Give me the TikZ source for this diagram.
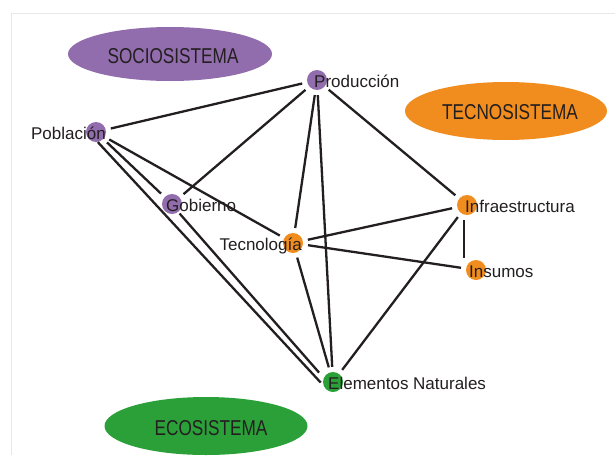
\documentclass[tikz,border=0pt]{standalone}
\usepackage{fontspec}
\usepackage{graphicx}
\setmainfont{Liberation Sans}
\newfontfamily\narrowfont[FakeStretch=0.8]{Liberation Sans}
\usetikzlibrary{shapes.geometric}
\definecolor{socio}{RGB}{146,109,173}
\definecolor{tecno}{RGB}{240,141,30}
\definecolor{eco}{RGB}{43,160,57}
\definecolor{ink}{RGB}{35,31,32}
\definecolor{frame}{RGB}{232,232,232}
\tikzset{
  dot/.style={circle,minimum size=20pt,inner sep=0pt,draw=none},
  lbl/.style={inner sep=0pt,text=ink,font=\fontsize{17}{17}\selectfont},
  sysell/.style={ellipse,draw=none,inner sep=0pt},
  systxt/.style={inner sep=0pt,text=ink,font=\narrowfont\fontsize{21.5}{21.5}\selectfont},
  link/.style={line width=2.3pt,ink,shorten <=5pt,shorten >=5pt}
}
\begin{document}
\begin{tikzpicture}[x=1pt,y=-1pt]
\useasboundingbox (0,0) rectangle (615,455);
\fill[white] (0,0) rectangle (615,455);
\draw[frame,line width=1pt] (11,455) -- (11,13) -- (615,13);
% system ellipses
\node[sysell,fill=socio,minimum width=204pt,minimum height=54pt] (soc) at (170,54) {};
\node[systxt] (soct) at (173,56) {SOCIOSISTEMA};
\node[sysell,fill=tecno,minimum width=202pt,minimum height=58pt] (tec) at (506,111) {};
\node[systxt] (tect) at (510,112) {TECNOSISTEMA};
\node[sysell,fill=eco,minimum width=203pt,minimum height=58pt] (eco) at (206,426) {};
\node[systxt] (ecot) at (211,428) {ECOSISTEMA};
% dots
\node[dot,fill=socio] (prod) at (317,80) {};
\node[dot,fill=socio] (pob) at (96,132) {};
\node[dot,fill=socio] (gob) at (172,204) {};
\node[dot,fill=tecno] (tecn) at (293,243) {};
\node[dot,fill=tecno] (inf) at (467,205) {};
\node[dot,fill=tecno] (ins) at (476,270) {};
\node[dot,fill=eco] (ele) at (333,382) {};
% links
\draw[link] (pob) -- (prod);
\draw[link] (pob) -- (tecn);
\draw[link] (pob) -- (gob);
\draw[link,shorten <=0pt,shorten >=4pt] (pob.-80) -- (ele.200);
\draw[link] (gob) -- (prod);
\draw[link,shorten <=2pt,shorten >=7pt] (gob.-52) -- (ele.156);
\draw[link] (prod) -- (tecn);
\draw[link] (prod) -- (ele);
\draw[link] (prod) -- (inf);
\draw[link] (tecn) -- (inf);
\draw[link] (tecn) -- (ins);
\draw[link] (tecn) -- (ele);
\draw[link,shorten <=5pt,shorten >=2pt] ([xshift=-3pt]inf.south) -- ([xshift=-3pt]inf.south |- ins.north);
\draw[link] (inf) -- (ele);
% labels
\node[lbl,anchor=base east] (lpob) at (106,139) {Población};
\node[lbl,anchor=base west] (lprod) at (314,87) {Producción};
\node[lbl,anchor=base west] (lgob) at (166,211) {Gobierno};
\node[lbl,anchor=base east] (ltec) at (302,250) {Tecnología};
\node[lbl,anchor=base west] (linf) at (465,212) {Infraestructura};
\node[lbl,anchor=base west] (lins) at (469,277) {Insumos};
\node[lbl,anchor=base west] (lele) at (328,389) {Elementos Naturales};
\end{tikzpicture}
\end{document}
